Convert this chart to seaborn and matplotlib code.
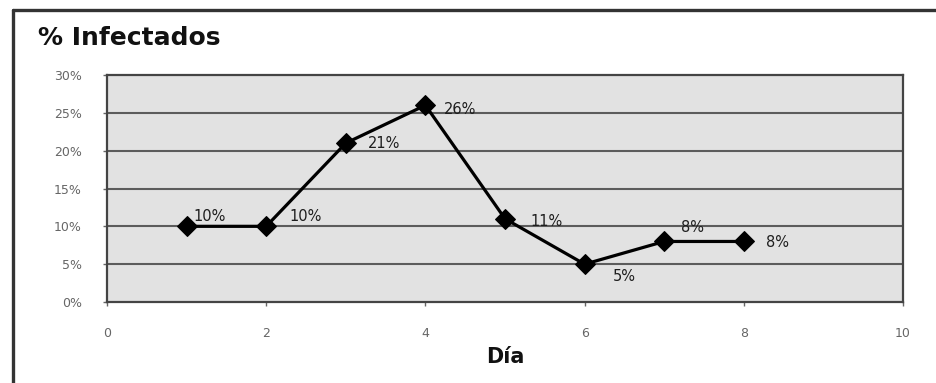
import matplotlib
matplotlib.use("Agg")
import matplotlib.pyplot as plt
from matplotlib.ticker import FuncFormatter
import seaborn as sns
import pandas as pd

# Daily share of infected subjects
dias = [1, 2, 3, 4, 5, 6, 7, 8]
infectados = [10, 10, 21, 26, 11, 5, 8, 8]
etiquetas = ["10%", "10%", "21%", "26%", "11%", "5%", "8%", "8%"]
x_ticks = [0, 2, 4, 6, 8, 10]
y_ticks = [0, 5, 10, 15, 20, 25, 30]

df = pd.DataFrame({"Día": dias, "Infectados": infectados})

sns.set_theme(style="white")
plt.rcParams["font.family"] = ["DejaVu Sans"]

fig = plt.figure(figsize=(9.36, 3.83), dpi=100)
ax = fig.add_axes([107 / 936, 1 - 302 / 383, (903 - 107) / 936, (302 - 75) / 383])

ax.set_facecolor("#e2e2e2")
for y in y_ticks[1:-1]:
    ax.axhline(y, color="#5c5c5c", lw=1.5, zorder=1)

sns.lineplot(data=df, x="Día", y="Infectados", ax=ax, color="black", lw=2.3,
             marker="D", markersize=10, markeredgecolor="black", zorder=3)

# label offsets in points (dx, dy) for each data label
offsets = [(5, 7), (17, 7), (16, 0), (13, -3), (18, -2), (20, -9), (12, 10), (16, -1)]
for xv, yv, txt, (dx, dy) in zip(dias, infectados, etiquetas, offsets):
    ax.annotate(txt, (xv, yv), xytext=(dx, dy), textcoords="offset points",
                ha="left", va="center", fontsize=10.5, color="#1e1e1e", zorder=4)

ax.set_xlim(0, 10)
ax.set_ylim(0, 30)
ax.set_xticks(x_ticks)
ax.set_yticks(y_ticks)
ax.yaxis.set_major_formatter(FuncFormatter(lambda v, p: f"{int(v)}%"))
ax.tick_params(axis="both", labelsize=9, colors="#666666", length=3,
               direction="out", width=1, left=True, bottom=True)
ax.tick_params(axis="x", pad=15)
ax.tick_params(axis="y", pad=15)
for s in ax.spines.values():
    s.set_color("#444444")
    s.set_linewidth(1.6)

ax.set_xlabel("Día", fontsize=15, fontweight="bold", color="#111111", labelpad=5)
ax.set_ylabel("")

fig.text(38 / 936, 1 - 38 / 383, "% Infectados", fontsize=18, fontweight="bold",
         color="#111111", ha="left", va="center")

# outer frame: top and left edges
fig.add_artist(plt.Line2D([13 / 936, 1], [1 - 10 / 383, 1 - 10 / 383],
                          transform=fig.transFigure, color="#333333", lw=2.4))
fig.add_artist(plt.Line2D([13 / 936, 13 / 936], [0, 1 - 10 / 383],
                          transform=fig.transFigure, color="#333333", lw=2.4))

fig.savefig("out.png", dpi=100)
